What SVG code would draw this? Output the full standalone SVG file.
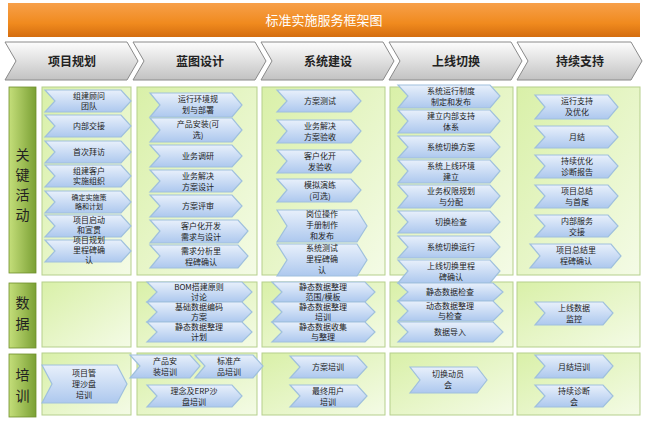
<svg xmlns="http://www.w3.org/2000/svg" width="646" height="423" viewBox="0 0 646 423">
<style>
.nt{font-family:"Noto Sans CJK SC","Liberation Sans",sans-serif;font-size:8px;fill:#222;text-anchor:middle}
.pt{font-family:"Noto Sans CJK SC","Liberation Sans",sans-serif;font-size:12px;font-weight:bold;fill:#222;text-anchor:middle}
.rt{font-family:"Noto Sans CJK SC","Liberation Sans",sans-serif;font-size:14px;fill:#222;text-anchor:middle}
.nd{fill:url(#gb);stroke:#9fc0dd;stroke-width:1.2}
.ph{fill:url(#gg);stroke:#8a8a8a;stroke-width:1}
.pn{fill:url(#gp);stroke:#b5cf8c;stroke-width:1}
.rl{fill:url(#gr);stroke:#6f8f2c;stroke-width:0.8}
</style>
<defs>
<linearGradient id="go" x1="0" y1="0" x2="0" y2="1"><stop offset="0" stop-color="#f7a04a"/><stop offset="0.6" stop-color="#f08a1e"/><stop offset="1" stop-color="#d46d0f"/></linearGradient>
<linearGradient id="gg" x1="0" y1="0" x2="0" y2="1"><stop offset="0" stop-color="#fdfdfd"/><stop offset="1" stop-color="#c2c2c2"/></linearGradient>
<linearGradient id="gb" x1="0" y1="0" x2="0" y2="1"><stop offset="0" stop-color="#e8f0fb"/><stop offset="1" stop-color="#adc8ee"/></linearGradient>
<linearGradient id="gp" x1="0" y1="0" x2="1" y2="1"><stop offset="0" stop-color="#d9f0a8"/><stop offset="1" stop-color="#f4fbe6"/></linearGradient>
<linearGradient id="gr" x1="0" y1="0" x2="1" y2="0"><stop offset="0" stop-color="#c4de7a"/><stop offset="1" stop-color="#7aa034"/></linearGradient>
</defs>
<rect width="646" height="423" fill="#fff"/>
<g id="title"><rect x="8" y="3" width="632" height="34" fill="url(#go)"/><text x="324" y="25" style="font-family:'Noto Sans CJK SC',sans-serif;font-size:13px;fill:#fff;text-anchor:middle">标准实施服务框架图</text></g>
<g id="phases">
<path class="ph" d="M5,42 H127 L138,61 L127,80 H5 L16,61 Z"/><text class="pt" x="72" y="66">项目规划</text>
<path class="ph" d="M133,42 H255 L266,61 L255,80 H133 L144,61 Z"/><text class="pt" x="200" y="66">蓝图设计</text>
<path class="ph" d="M261,42 H383 L394,61 L383,80 H261 L272,61 Z"/><text class="pt" x="328" y="66">系统建设</text>
<path class="ph" d="M389,42 H511 L522,61 L511,80 H389 L400,61 Z"/><text class="pt" x="456" y="66">上线切换</text>
<path class="ph" d="M517,42 H631 L642,61 L631,80 H517 L528,61 Z"/><text class="pt" x="580" y="66">持续支持</text>
</g>
<g id="rows">
<rect class="rl" x="9" y="87" width="27" height="186"/><text class="rt"><tspan x="22.5" y="160">关</tspan><tspan x="22.5" y="180">键</tspan><tspan x="22.5" y="200">活</tspan><tspan x="22.5" y="220">动</tspan></text>
<rect class="rl" x="9" y="283" width="27" height="65"/><text class="rt"><tspan x="22.5" y="308">数</tspan><tspan x="22.5" y="329">据</tspan></text>
<rect class="rl" x="9" y="354" width="27" height="63"/><text class="rt"><tspan x="22.5" y="380">培</tspan><tspan x="22.5" y="401">训</tspan></text>
</g>
<g id="panels">
<rect class="pn" x="42" y="87" width="89" height="188"/><rect class="pn" x="137" y="87" width="120" height="188"/><rect class="pn" x="262" y="87" width="123" height="188"/><rect class="pn" x="390" y="87" width="123" height="188"/><rect class="pn" x="517" y="87" width="123" height="188"/>
<rect class="pn" x="42" y="282" width="89" height="65"/><rect class="pn" x="137" y="282" width="120" height="65"/><rect class="pn" x="262" y="282" width="123" height="65"/><rect class="pn" x="390" y="282" width="123" height="65"/><rect class="pn" x="517" y="282" width="123" height="65"/>
<rect class="pn" x="42" y="353" width="89" height="62"/><rect class="pn" x="137" y="353" width="120" height="62"/><rect class="pn" x="262" y="353" width="123" height="62"/><rect class="pn" x="390" y="353" width="123" height="62"/><rect class="pn" x="517" y="353" width="123" height="62"/>
</g>
<g id="nodes">
<g id="a1"><path class="nd" d="M45,90 H121 L131,101 L121,112 H45 L55,101 Z"/><text class="nt"><tspan x="89" y="99">组建顾问</tspan><tspan x="89" y="109">团队</tspan></text></g>
<g id="a2"><path class="nd" d="M45,115 H121 L131,126 L121,137 H45 L55,126 Z"/><text class="nt" x="89" y="129">内部交接</text></g>
<g id="a3"><path class="nd" d="M45,141 H121 L131,152 L121,163 H45 L55,152 Z"/><text class="nt" x="89" y="155">首次拜访</text></g>
<g id="a4"><path class="nd" d="M45,165 H121 L131,176 L121,187 H45 L55,176 Z"/><text class="nt"><tspan x="89" y="174">组建客户</tspan><tspan x="89" y="184">实施组织</tspan></text></g>
<g id="a5"><path class="nd" d="M45,191 H121 L131,202 L121,213 H45 L55,202 Z"/><text class="nt" style="font-size:7px"><tspan x="89" y="200">确定实施策</tspan><tspan x="89" y="209">略和计划</tspan></text></g>
<g id="a6"><path class="nd" d="M45,215 H121 L131,226 L121,237 H45 L55,226 Z"/><text class="nt"><tspan x="89" y="223">项目启动</tspan><tspan x="89" y="233">和宣贯</tspan></text></g>
<g id="a7"><path class="nd" d="M45,240 H121 L131,251 L121,262 H45 L55,251 Z"/><text class="nt"><tspan x="89" y="243">项目规划</tspan><tspan x="89" y="253">里程碑确</tspan><tspan x="89" y="263">认</tspan></text></g>

<g id="b1"><path class="nd" d="M150,93 H232 L242,105 L232,117 H150 L160,105 Z"/><text class="nt"><tspan x="198" y="102">运行环境规</tspan><tspan x="198" y="113">划与部署</tspan></text></g>
<g id="b2"><path class="nd" d="M150,118 H232 L242,130 L232,142 H150 L160,130 Z"/><text class="nt"><tspan x="198" y="127">产品安装(可</tspan><tspan x="198" y="138">选)</tspan></text></g>
<g id="b3"><path class="nd" d="M150,145 H232 L242,156 L232,167 H150 L160,156 Z"/><text class="nt" x="198" y="159">业务调研</text></g>
<g id="b4"><path class="nd" d="M150,170 H232 L242,181 L232,192 H150 L160,181 Z"/><text class="nt"><tspan x="198" y="179">业务解决</tspan><tspan x="198" y="190">方案设计</tspan></text></g>
<g id="b5"><path class="nd" d="M150,195 H232 L242,206 L232,217 H150 L160,206 Z"/><text class="nt" x="198" y="209">方案评审</text></g>
<g id="b6"><path class="nd" d="M150,220 H238 L248,231 L238,243 H150 L160,231 Z"/><text class="nt"><tspan x="201" y="229">客户化开发</tspan><tspan x="201" y="240">需求与设计</tspan></text></g>
<g id="b7"><path class="nd" d="M150,245 H238 L248,256 L238,268 H150 L160,256 Z"/><text class="nt"><tspan x="201" y="254">需求分析里</tspan><tspan x="201" y="265">程碑确认</tspan></text></g>

<g id="c1"><path class="nd" d="M277,90 H351 L361,101 L351,112 H277 L287,101 Z"/><text class="nt" x="320" y="104">方案测试</text></g>
<g id="c2"><path class="nd" d="M277,120 H351 L361,131 L351,143 H277 L287,131 Z"/><text class="nt"><tspan x="320" y="129">业务解决</tspan><tspan x="320" y="140">方案验收</tspan></text></g>
<g id="c3"><path class="nd" d="M277,150 H351 L361,161 L351,173 H277 L287,161 Z"/><text class="nt"><tspan x="320" y="159">客户化开</tspan><tspan x="320" y="170">发验收</tspan></text></g>
<g id="c4"><path class="nd" d="M277,179 H351 L361,190 L351,202 H277 L287,190 Z"/><text class="nt"><tspan x="320" y="188">模拟演练</tspan><tspan x="320" y="199">(可选)</tspan></text></g>
<g id="c5"><path class="nd" d="M277,210 H357 L367,226 L357,242 H277 L287,226 Z"/><text class="nt"><tspan x="322" y="217">岗位操作</tspan><tspan x="322" y="228">手册制作</tspan><tspan x="322" y="239">和发布</tspan></text></g>
<g id="c6"><path class="nd" d="M277,244 H357 L367,260 L357,276 H277 L287,260 Z"/><text class="nt"><tspan x="322" y="251">系统测试</tspan><tspan x="322" y="262">里程碑确</tspan><tspan x="322" y="273">认</tspan></text></g>

<g id="d1"><path class="nd" d="M398,85 H490 L500,96 L490,108 H398 L408,96 Z"/><text class="nt"><tspan x="451" y="94">系统运行制度</tspan><tspan x="451" y="105">制定和发布</tspan></text></g>
<g id="d2"><path class="nd" d="M398,110 H490 L500,121 L490,133 H398 L408,121 Z"/><text class="nt"><tspan x="451" y="119">建立内部支持</tspan><tspan x="451" y="130">体系</tspan></text></g>
<g id="d3"><path class="nd" d="M398,136 H490 L500,147 L490,158 H398 L408,147 Z"/><text class="nt" x="451" y="150">系统切换方案</text></g>
<g id="d4"><path class="nd" d="M398,160 H490 L500,171 L490,183 H398 L408,171 Z"/><text class="nt"><tspan x="451" y="169">系统上线环境</tspan><tspan x="451" y="180">建立</tspan></text></g>
<g id="d5"><path class="nd" d="M398,185 H490 L500,196 L490,208 H398 L408,196 Z"/><text class="nt"><tspan x="451" y="194">业务权限规划</tspan><tspan x="451" y="205">与分配</tspan></text></g>
<g id="d6"><path class="nd" d="M398,211 H490 L500,222 L490,233 H398 L408,222 Z"/><text class="nt" x="451" y="225">切换检查</text></g>
<g id="d7"><path class="nd" d="M398,236 H490 L500,247 L490,258 H398 L408,247 Z"/><text class="nt" x="451" y="250">系统切换运行</text></g>
<g id="d8"><path class="nd" d="M398,260 H490 L500,271 L490,283 H398 L408,271 Z"/><text class="nt"><tspan x="451" y="269">上线切换里程</tspan><tspan x="451" y="280">碑确认</tspan></text></g>

<g id="e1"><path class="nd" d="M535,95 H608 L618,107 L608,119 H535 L545,107 Z"/><text class="nt"><tspan x="577" y="104">运行支持</tspan><tspan x="577" y="115">及优化</tspan></text></g>
<g id="e2"><path class="nd" d="M535,126 H608 L618,137 L608,148 H535 L545,137 Z"/><text class="nt" x="577" y="140">月结</text></g>
<g id="e3"><path class="nd" d="M535,155 H608 L618,166 L608,178 H535 L545,166 Z"/><text class="nt"><tspan x="577" y="164">持续优化</tspan><tspan x="577" y="175">诊断报告</tspan></text></g>
<g id="e4"><path class="nd" d="M535,185 H608 L618,196 L608,208 H535 L545,196 Z"/><text class="nt"><tspan x="577" y="194">项目总结</tspan><tspan x="577" y="205">与首尾</tspan></text></g>
<g id="e5"><path class="nd" d="M535,215 H608 L618,226 L608,237 H535 L545,226 Z"/><text class="nt"><tspan x="577" y="224">内部服务</tspan><tspan x="577" y="235">交接</tspan></text></g>
<g id="e6"><path class="nd" d="M530,244 H611 L621,256 L611,268 H530 L540,256 Z"/><text class="nt"><tspan x="576" y="253">项目总结里</tspan><tspan x="576" y="264">程碑确认</tspan></text></g>

<g id="f1"><path class="nd" d="M147,282 H242 L252,292 L242,302 H147 L157,292 Z"/><text class="nt"><tspan x="199" y="290">BOM搭建原则</tspan><tspan x="199" y="300">讨论</tspan></text></g>
<g id="f2"><path class="nd" d="M147,302 H242 L252,312 L242,322 H147 L157,312 Z"/><text class="nt"><tspan x="199" y="310">基础数据编码</tspan><tspan x="199" y="320">方案</tspan></text></g>
<g id="f3"><path class="nd" d="M147,322 H242 L252,332 L242,342 H147 L157,332 Z"/><text class="nt"><tspan x="199" y="330">静态数据整理</tspan><tspan x="199" y="340">计划</tspan></text></g>
<g id="g1"><path class="nd" d="M272,282 H365 L375,292 L365,302 H272 L282,292 Z"/><text class="nt"><tspan x="323" y="290">静态数据整理</tspan><tspan x="323" y="300">范围/模板</tspan></text></g>
<g id="g2"><path class="nd" d="M272,302 H365 L375,312 L365,322 H272 L282,312 Z"/><text class="nt"><tspan x="323" y="310">静态数据整理</tspan><tspan x="323" y="320">培训</tspan></text></g>
<g id="g3"><path class="nd" d="M272,322 H365 L375,332 L365,342 H272 L282,332 Z"/><text class="nt"><tspan x="323" y="330">静态数据收集</tspan><tspan x="323" y="340">与整理</tspan></text></g>
<g id="h1"><path class="nd" d="M398,283 H493 L503,292 L493,301 H398 L408,292 Z"/><text class="nt" x="450" y="295">静态数据检查</text></g>
<g id="h2"><path class="nd" d="M398,301 H493 L503,311 L493,321 H398 L408,311 Z"/><text class="nt"><tspan x="450" y="309">动态数据整理</tspan><tspan x="450" y="319">与检查</tspan></text></g>
<g id="h3"><path class="nd" d="M398,322 H493 L503,332 L493,342 H398 L408,332 Z"/><text class="nt" x="450" y="335">数据导入</text></g>
<g id="i1"><path class="nd" d="M535,302 H603 L613,313 L603,325 H535 L545,313 Z"/><text class="nt"><tspan x="574" y="311">上线数据</tspan><tspan x="574" y="322">监控</tspan></text></g>

<g id="j1"><path class="nd" d="M42,365 H117 L127,384 L117,403 H42 L52,384 Z"/><text class="nt"><tspan x="84" y="376">项目管</tspan><tspan x="84" y="387">理沙盘</tspan><tspan x="84" y="398">培训</tspan></text></g>
<g id="k1"><path class="nd" d="M130,355 H190 L200,366 L190,378 H130 L140,366 Z"/><text class="nt"><tspan x="165" y="364">产品安</tspan><tspan x="165" y="375">装培训</tspan></text></g>
<g id="k2"><path class="nd" d="M195,355 H253 L263,366 L253,378 H195 L205,366 Z"/><text class="nt"><tspan x="229" y="364">标准产</tspan><tspan x="229" y="375">品培训</tspan></text></g>
<g id="k3"><path class="nd" d="M147,385 H232 L242,396 L232,407 H147 L157,396 Z"/><text class="nt"><tspan x="194" y="394">理念及ERP沙</tspan><tspan x="194" y="405">盘培训</tspan></text></g>
<g id="l1"><path class="nd" d="M290,356 H357 L367,367 L357,378 H290 L300,367 Z"/><text class="nt" x="328" y="370">方案培训</text></g>
<g id="l2"><path class="nd" d="M290,385 H357 L367,396 L357,407 H290 L300,396 Z"/><text class="nt"><tspan x="328" y="394">最终用户</tspan><tspan x="328" y="405">培训</tspan></text></g>
<g id="m1"><path class="nd" d="M410,367 H477 L487,380 L477,393 H410 L420,380 Z"/><text class="nt"><tspan x="448" y="377">切换动员</tspan><tspan x="448" y="388">会</tspan></text></g>
<g id="o1"><path class="nd" d="M535,355 H603 L613,366 L603,378 H535 L545,366 Z"/><text class="nt" x="574" y="370">月结培训</text></g>
<g id="o2"><path class="nd" d="M535,385 H603 L613,396 L603,407 H535 L545,396 Z"/><text class="nt"><tspan x="574" y="394">持续诊断</tspan><tspan x="574" y="405">会</tspan></text></g>
</g>
<g id="connectors"/>
</svg>
